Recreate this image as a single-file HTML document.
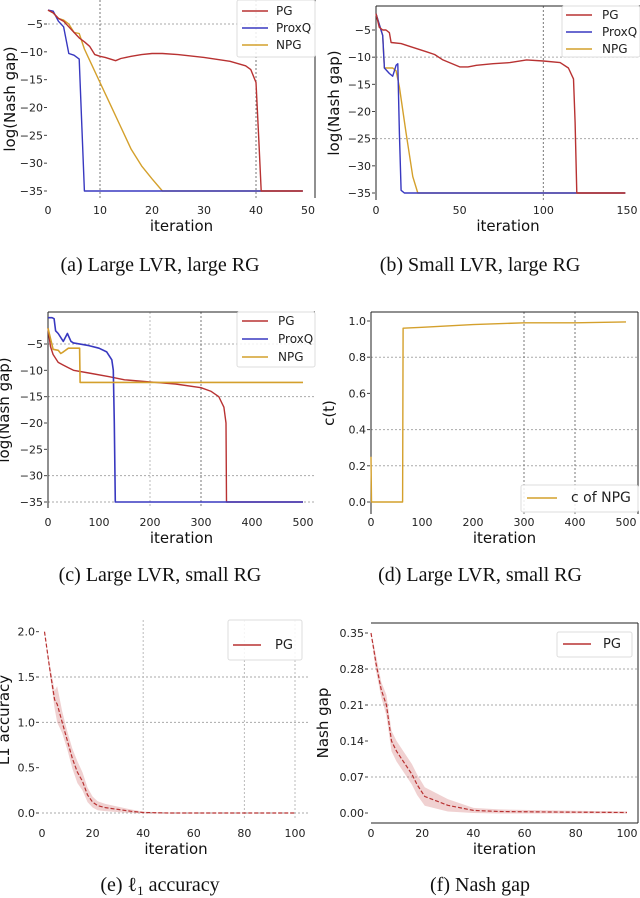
<!DOCTYPE html>
<html><head><meta charset="utf-8"><style>
html,body{margin:0;padding:0;background:#fff;}
svg{display:block;}
text{font-family:"DejaVu Sans","Liberation Sans",sans-serif;}
.cap{font-family:"Liberation Serif",serif;font-size:20px;fill:#111;}
</style></head><body>
<svg id="fig" width="640" height="898" viewBox="0 0 640 898" xmlns="http://www.w3.org/2000/svg">
<text class="cap" x="160" y="271" text-anchor="middle">(a) Large LVR, large RG</text>
<text class="cap" x="480" y="271" text-anchor="middle">(b) Small LVR, large RG</text>
<text class="cap" x="160" y="581" text-anchor="middle">(c) Large LVR, small RG</text>
<text class="cap" x="480" y="581" text-anchor="middle">(d) Large LVR, small RG</text>
<text class="cap" x="160" y="891" text-anchor="middle">(e) ℓ<tspan font-size="13" dy="4">1</tspan><tspan dy="-4"> accuracy</tspan></text>
<text class="cap" x="480" y="891" text-anchor="middle">(f) Nash gap</text>
</svg>
<script>
// ---- Panel (a) data ----
const aPGx=[0,1,2,3,4,5,6,7,8,9,10,11,12,13,14,16,18,20,22,25,30,35,38,39,40,40.5,41,49];
const aPGy=[-2.5,-3,-4,-4.5,-5.5,-6.5,-7.5,-8.2,-9,-10.5,-10.8,-11,-11.3,-11.6,-11.2,-10.8,-10.5,-10.3,-10.3,-10.5,-11,-11.7,-12.5,-13.2,-15.5,-25,-35,-35];
const aPQx=[0,1,2,3,4,5,6,7,49];
const aPQy=[-2.5,-2.7,-4.5,-5.5,-10.3,-10.6,-11.3,-35,-35];
const aNPx=[0,1,2,3,4,5,6,7,8,10,12,14,16,18,20,22,49];
const aNPy=[-2.5,-3,-4,-4.3,-5,-6.5,-6.7,-9.5,-11.5,-15.5,-19.5,-23.5,-27.5,-30.5,-32.8,-35,-35];
const aXticks=[0,10,20,30,40,50];
const aYticks=[-5,-10,-15,-20,-25,-30,-35];
// ---- Panel (b) data ----
const bPGx=[0,2,4,6,8,9,15,20,30,35,40,50,55,60,70,80,90,100,110,115,118,119,120,149];
const bPGy=[-2,-4.5,-5,-5,-5.5,-7.3,-7.5,-8,-9,-9.5,-10.5,-11.8,-11.8,-11.5,-11.2,-11,-10.5,-10.7,-11,-12,-14,-22,-35,-35];
const bPQx=[0,3,4,5,8,10,12,13,14,15,17,149];
const bPQy=[-2,-5,-6,-12,-13,-13.5,-11.5,-11.2,-24,-34.5,-35,-35];
const bNPx=[0,4,5,10,12,14,18,22,25,149];
const bNPy=[-2,-6,-12,-12,-12.5,-15.5,-24,-32,-35,-35];
const bXticks=[0,50,100,150];
const bYticks=[-5,-10,-15,-20,-25,-30,-35];
// ---- Panel (c) data ----
const cPGx=[0,5,10,20,30,40,50,80,120,150,200,250,300,320,335,345,349,350,500];
const cPGy=[-2,-5.5,-7,-8.5,-9,-9.5,-10,-10.5,-11.2,-11.8,-12.2,-12.6,-13.3,-14,-15,-17,-20,-35,-35];
const cPQx=[0,8,12,15,20,30,38,45,50,80,100,115,125,128,130,132,500];
const cPQy=[0,0,-0.2,-2.5,-3,-4.5,-3,-4.5,-4.8,-5.3,-5.8,-6.5,-8,-10,-20,-35,-35];
const cNPx=[0,10,20,25,30,40,62,63,500];
const cNPy=[-2,-6,-6.2,-6.8,-6.5,-5.8,-5.8,-12.3,-12.3];
const cXticks=[0,100,200,300,400,500];
const cYticks=[-5,-10,-15,-20,-25,-30,-35];
// ---- Panel (d) data ----
const dX=[0,1,62,63,100,200,300,400,500];
const dY=[0.25,0,0,0.96,0.965,0.98,0.99,0.99,0.995];
const dXticks=[0,100,200,300,400,500];
const dYticks=[0,0.2,0.4,0.6,0.8,1.0];
// ---- Panel (e) data ----
const eX=[1,3,5,6,8,10,12,14,16,18,20,22,25,30,35,40,50,100];
const eMean=[2.0,1.6,1.25,1.2,1.0,0.8,0.6,0.45,0.35,0.2,0.12,0.08,0.06,0.04,0.02,0.005,0,0];
const eStd=[0,0.05,0.1,0.2,0.12,0.1,0.11,0.12,0.1,0.08,0.06,0.05,0.04,0.03,0.02,0.01,0.005,0];
const eXticks=[0,20,40,60,80,100];
const eYticks=[0,0.5,1.0,1.5,2.0];
// ---- Panel (f) data ----
const fX=[0,1,2,4,6,8,10,12,16,18,21,30,40,50,70,100];
const fMean=[0.35,0.32,0.29,0.24,0.21,0.14,0.12,0.105,0.075,0.055,0.032,0.015,0.005,0.003,0.002,0.001];
const fStd=[0,0.01,0.015,0.015,0.02,0.02,0.02,0.02,0.02,0.02,0.018,0.012,0.005,0.004,0.003,0.002];
const fXticks=[0,20,40,60,80,100];
const fYticks=[0,0.07,0.14,0.21,0.28,0.35];

const NS='http://www.w3.org/2000/svg';
const svg=document.getElementById('fig');
const RED='#b83232',BLUE='#3838c0',GOLD='#d4a02c';
function el(tag,attrs,parent){const e=document.createElementNS(NS,tag);for(const k in attrs)e.setAttribute(k,attrs[k]);(parent||svg).appendChild(e);return e;}
function scale(d0,d1,p0,p1){return v=>p0+(v-d0)*(p1-p0)/(d1-d0);}
function fmt(v,dec){return (v<0?'\u2212':'')+Math.abs(v).toFixed(dec);}

function panel(id,o){
  const g=el('g',{});
  
  
  const X=scale(o.xd[0],o.xd[1],o.xp[0],o.xp[1]);
  const Y=scale(o.yd[0],o.yd[1],o.yp[0],o.yp[1]);
  const B=o.box;// [l,t,r,b]
  // grid
  (o.hgrid||[]).forEach(v=>{const l=el('line',{x1:B[0],x2:B[2],y1:Y(v),y2:Y(v),stroke:'#aaa','stroke-width':1,'stroke-dasharray':'2,2'},g);});
  (o.vgrid||[]).forEach(v=>{const l=el('line',{x1:X(v[0]),x2:X(v[0]),y1:B[1],y2:B[3],stroke:v[1]?'#777':'#bbb','stroke-width':1,'stroke-dasharray':'2,2'},g);});
  // spines
  (o.spines||'').split('').forEach(s=>{
    let a;
    if(s==='l')a=[B[0],B[1],B[0],B[3]];
    if(s==='r')a=[B[2],B[1],B[2],B[3]];
    if(s==='t')a=[B[0],B[1],B[2],B[1]];
    if(s==='b')a=[B[0],B[3],B[2],B[3]];
    const l=el('line',{x1:a[0],y1:a[1],x2:a[2],y2:a[3],stroke:'#222','stroke-width':1},g);
    
  });
  // ticks
  o.xt.forEach(v=>{const t=el('text',{x:X(v),y:o.xty,'text-anchor':'middle','font-size':11,fill:'#222'},g);t.textContent=String(v);
    });
  o.yt.forEach(v=>{const t=el('text',{x:o.ytx,y:Y(v)+4,'text-anchor':'end','font-size':11,fill:'#222'},g);t.textContent=fmt(v,o.ydec);
    
    const tk=el('line',{x1:o.ytx+1,x2:o.ytx+4,y1:Y(v),y2:Y(v),stroke:'#444'},g);});
  const xl=el('text',{x:(B[0]+B[2])/2,y:o.xly,'text-anchor':'middle','font-size':15,fill:'#111'},g);xl.textContent='iteration';
  
  const cy=(B[1]+B[3])/2;
  const yl=el('text',{x:o.ylx,y:cy,'text-anchor':'middle','font-size':15,fill:'#111',transform:'rotate(-90 '+o.ylx+' '+cy+')'},g);yl.textContent=o.ylabel;
  
  // bands
  (o.bands||[]).forEach(b=>{
    let d='';b.x.forEach((x,i)=>{d+=(i?'L':'M')+X(x)+','+Y(b.m[i]+b.s[i]);});
    for(let i=b.x.length-1;i>=0;i--)d+='L'+X(b.x[i])+','+Y(Math.max(b.m[i]-b.s[i],o.yd[1]<o.yd[0]?-1e9:b.m[i]-b.s[i]));
    const p=el('path',{d:d+'Z',fill:'rgba(200,90,90,0.28)',stroke:'none'},g);
    
  });
  // series
  o.series.forEach(s=>{
    const pts=s.x.map((x,i)=>X(x).toFixed(1)+','+Y(s.y[i]).toFixed(1)).join(' ');
    const p=el('polyline',{points:pts,fill:'none',stroke:s.c,'stroke-width':s.w||1.4,'stroke-dasharray':s.dash||'none','stroke-linejoin':'round'},g);
    
  });
  // legend
  if(o.legend){const L=o.legend;
    const r=el('rect',{x:L.box[0],y:L.box[1],width:L.box[2],height:L.box[3],fill:'rgba(255,255,255,0.85)',stroke:'#ddd',rx:2},g);
    
    L.items.forEach((it,i)=>{const yy=L.y0+i*L.dy;
      const ln=el('line',{x1:L.lx,x2:L.lx+L.lw,y1:yy,y2:yy,stroke:it[1],'stroke-width':1.5},g);
      
      const t=el('text',{x:L.lx+L.lw+L.gap,y:yy+4,'font-size':L.fs,fill:'#222'},g);t.textContent=it[0];
      });
  }
}
const leg3=[['PG',RED],['ProxQ',BLUE],['NPG',GOLD]];
panel('a',{xd:[0,50],xp:[48,308],yd:[-5,-35],yp:[24,191],box:[48,0,315,198],
  hgrid:[-5],vgrid:[[10,1],[40,1]],spines:'r',xt:aXticks,yt:aYticks,ydec:0,xty:214,ytx:43,xly:231,ylx:15,ylabel:'log(Nash gap)',
  series:[{x:aNPx,y:aNPy,c:GOLD,name:'npg-line'},{x:aPQx,y:aPQy,c:BLUE,name:'proxq-line'},{x:aPGx,y:aPGy,c:RED,name:'pg-line'}],
  legend:{box:[237,0,78,57],items:leg3,y0:11,dy:17,lx:242,lw:26,gap:8,fs:12}});
panel('b',{xd:[0,150],xp:[376,627],yd:[-5,-35],yp:[30,193],box:[376,6,640,200],
  hgrid:[-10,-25],vgrid:[[100,1]],spines:'lt',xt:bXticks,yt:bYticks,ydec:0,xty:214,ytx:371,xly:231,ylx:339,ylabel:'log(Nash gap)',
  series:[{x:bNPx,y:bNPy,c:GOLD,name:'npg-line'},{x:bPQx,y:bPQy,c:BLUE,name:'proxq-line'},{x:bPGx,y:bPGy,c:RED,name:'pg-line'}],
  legend:{box:[562,6,78,51],items:leg3,y0:15,dy:17,lx:566,lw:26,gap:10,fs:12}});
panel('c',{xd:[0,500],xp:[48,303],yd:[-5,-35],yp:[344,502],box:[48,312,315,508],
  hgrid:[-5,-15,-30,-35],vgrid:[[200,0],[300,1]],spines:'lt',xt:cXticks,yt:cYticks,ydec:0,xty:526,ytx:43,xly:543,ylx:9,ylabel:'log(Nash gap)',
  series:[{x:cPGx,y:cPGy,c:RED,name:'pg-line'},{x:cPQx,y:cPQy,c:BLUE,name:'proxq-line',w:1.6},{x:cNPx,y:cNPy,c:GOLD,name:'npg-line',w:1.6}],
  legend:{box:[237,312,78,55],items:leg3,y0:321,dy:18,lx:242,lw:26,gap:10,fs:12}});
panel('d',{xd:[0,500],xp:[371,626],yd:[0,1],yp:[502,321],box:[371,312,638,514],
  hgrid:[0.8,0.4,0.2],vgrid:[[300,1],[400,1]],spines:'ltr',xt:dXticks,yt:dYticks,ydec:1,xty:526,ytx:366,xly:543,ylx:334,ylabel:'c(t)',
  series:[{x:dX,y:dY,c:GOLD,name:'c-of-npg-line'}],
  legend:{box:[521,485,117,27],items:[['c of NPG',GOLD]],y0:498,dy:0,lx:527,lw:30,gap:14,fs:14}});
panel('e',{xd:[0,100],xp:[42,295],yd:[0,1.5],yp:[813,677],box:[42,620,310,820],
  hgrid:[1.5,1.0,0],vgrid:[[40,0],[80,0],[100,0]],spines:'',xt:eXticks,yt:eYticks,ydec:1,xty:837,ytx:35,xly:854,ylx:9,ylabel:'L1 accuracy',
  bands:[{x:eX,m:eMean,s:eStd}],
  series:[{x:eX,y:eMean,c:RED,name:'pg-mean-line',w:1.2,dash:'4,2'}],
  legend:{box:[228,620,74,40],items:[['PG',RED]],y0:645,dy:0,lx:233,lw:28,gap:14,fs:13}});
panel('f',{xd:[0,100],xp:[371,627],yd:[0,0.35],yp:[813,633],box:[371,623,638,823],
  hgrid:[0.28,0.21,0.07],vgrid:[],spines:'trb',xt:fXticks,yt:fYticks,ydec:2,xty:837,ytx:364,xly:854,ylx:328,ylabel:'Nash gap',
  bands:[{x:fX,m:fMean,s:fStd}],
  series:[{x:fX,y:fMean,c:RED,name:'pg-mean-line',w:1.2,dash:'4,2'}],
  legend:{box:[557,632,75,25],items:[['PG',RED]],y0:644,dy:0,lx:563,lw:28,gap:12,fs:13}});
</script>
</body></html>
